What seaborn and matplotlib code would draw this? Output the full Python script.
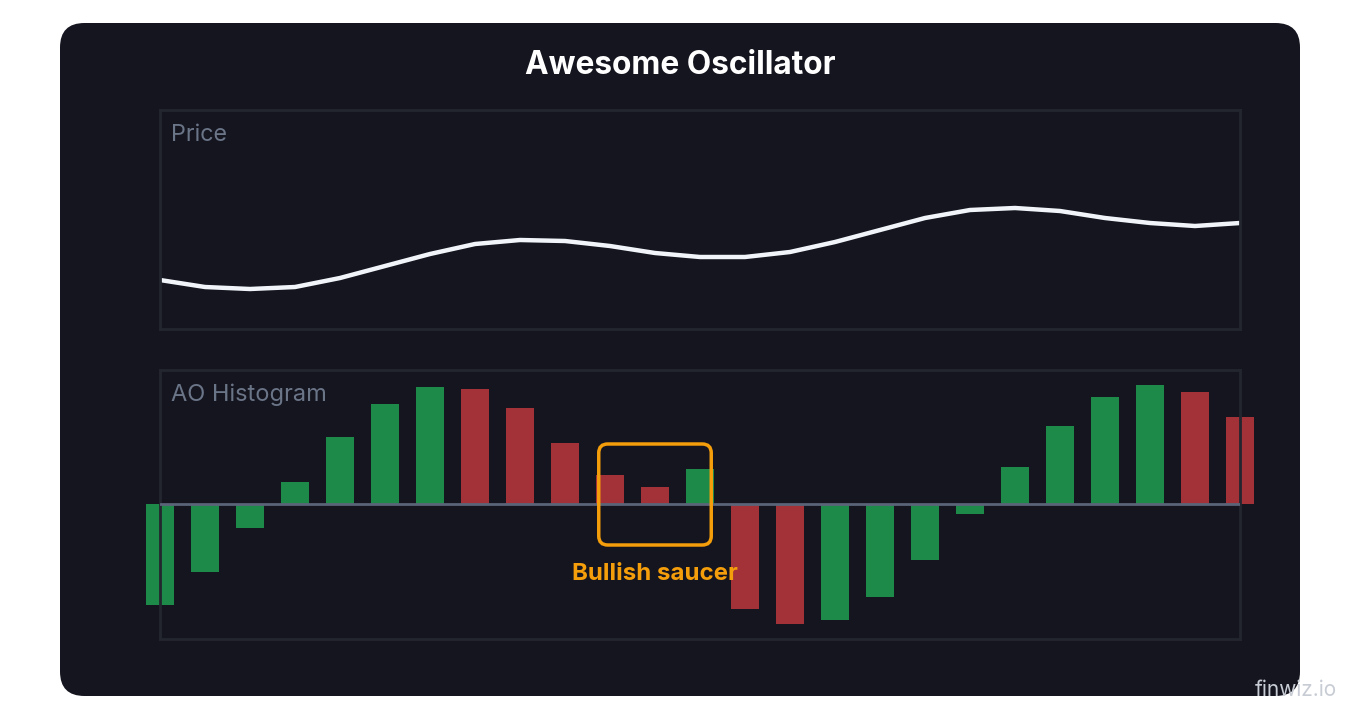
import numpy as np
import pandas as pd
import matplotlib.pyplot as plt
from matplotlib.patches import FancyBboxPatch
import seaborn as sns

# price line (arbitrary units) and AO histogram values for 25 periods
periods = list(range(25))
price = [49, 42, 40, 42, 51, 63, 75, 85, 89, 88, 83, 76, 72,
         72, 77, 87, 99, 111, 119, 121, 118, 111, 106, 103, 106]
ao = [-101, -68, -24, 22, 67, 100, 117, 115, 96, 61, 29, 17, 35,
      -105, -120, -116, -93, -56, -10, 37, 78, 107, 119, 112, 87]
direction = ["up", "up", "up", "up", "up", "up", "up", "down", "down", "down", "down", "down", "up",
             "down", "down", "up", "up", "up", "up", "up", "up", "up", "up", "down", "down"]

BG = "#14151f"
BORDER = "#23252f"
LABEL = "#6b7588"
GREEN = "#1e8a4a"
RED = "#a33238"
ORANGE = "#f59e0b"

sns.set_theme(style="dark")
plt.rcParams["font.family"] = ["Inter", "DejaVu Sans"]

fig = plt.figure(figsize=(13.6, 7.2), dpi=100)
fig.patch.set_facecolor("white")

# dark rounded card
card = FancyBboxPatch((60 / 1360, 1 - 696 / 720), 1240 / 1360, 673 / 720,
                      boxstyle="round,pad=0,rounding_size=0.018",
                      transform=fig.transFigure, facecolor=BG, edgecolor="none",
                      mutation_aspect=1360 / 720, zorder=-10)
fig.patches.append(card)

fig.text(0.5, 1 - 66 / 720, "Awesome Oscillator", ha="center", va="center",
         color="white", fontsize=22.8, fontweight="bold")

left, width = 160 / 1360, 1080 / 1360
ax_p = fig.add_axes([left, 1 - 329 / 720, width, 219 / 720], zorder=2)
ax_h = fig.add_axes([left, 1 - 639 / 720, width, 269 / 720], zorder=2)

for ax in (ax_p, ax_h):
    ax.set_facecolor(BG)
    ax.grid(False)
    for s in ax.spines.values():
        s.set_visible(True)
        s.set_color(BORDER)
        s.set_linewidth(2)

# price panel
df_p = pd.DataFrame({"t": periods, "price": price})
sns.lineplot(data=df_p, x="t", y="price", ax=ax_p, color="#f1f5f9", linewidth=3.2)
ax_p.set_xlim(0, 24)
ax_p.set_ylim(0, 219)
ax_p.set_xticks([])
ax_p.set_yticks([])
ax_p.set_xlabel("")
ax_p.set_ylabel("")
ax_p.text(11 / 1080, 1 - 25 / 219, "Price", transform=ax_p.transAxes,
          ha="left", va="center", color=LABEL, fontsize=16.8)

# AO histogram
df_h = pd.DataFrame({"t": periods, "ao": ao, "dir": direction})
sns.barplot(data=df_h, x="t", y="ao", hue="dir", palette={"up": GREEN, "down": RED},
            dodge=False, width=0.62, saturation=1, legend=False, ax=ax_h, zorder=2)
for patch in ax_h.patches:
    patch.set_clip_on(False)
    patch.set_edgecolor("none")
ax_h.axhline(0, color="#5a6478", linewidth=2, zorder=3)
ax_h.set_xlim(0, 24)
ax_h.set_ylim(-135, 134)
ax_h.set_xticks([])
ax_h.set_yticks([])
ax_h.set_xlabel("")
ax_h.set_ylabel("")
ax_h.text(11 / 1080, 1 - 25 / 269, "AO Histogram", transform=ax_h.transAxes,
          ha="left", va="center", color=LABEL, fontsize=17)

# bullish saucer highlight
box = FancyBboxPatch((9.75, -41), 2.5, 101, boxstyle="round,pad=0,rounding_size=0.2",
                     mutation_aspect=45,
                     facecolor="none", edgecolor=ORANGE, linewidth=2.5, zorder=4, clip_on=False)
ax_h.add_patch(box)
ax_h.text(11, -70, "Bullish saucer", ha="center", va="center", color=ORANGE,
          fontsize=17.3, fontweight="bold", zorder=5)

fig.text(1296 / 1360, 1 - 690 / 720, "finwiz.io", ha="center", va="center",
         color="#c8ccd4", fontsize=15)

fig.savefig("out.png", dpi=100, facecolor=fig.get_facecolor())
